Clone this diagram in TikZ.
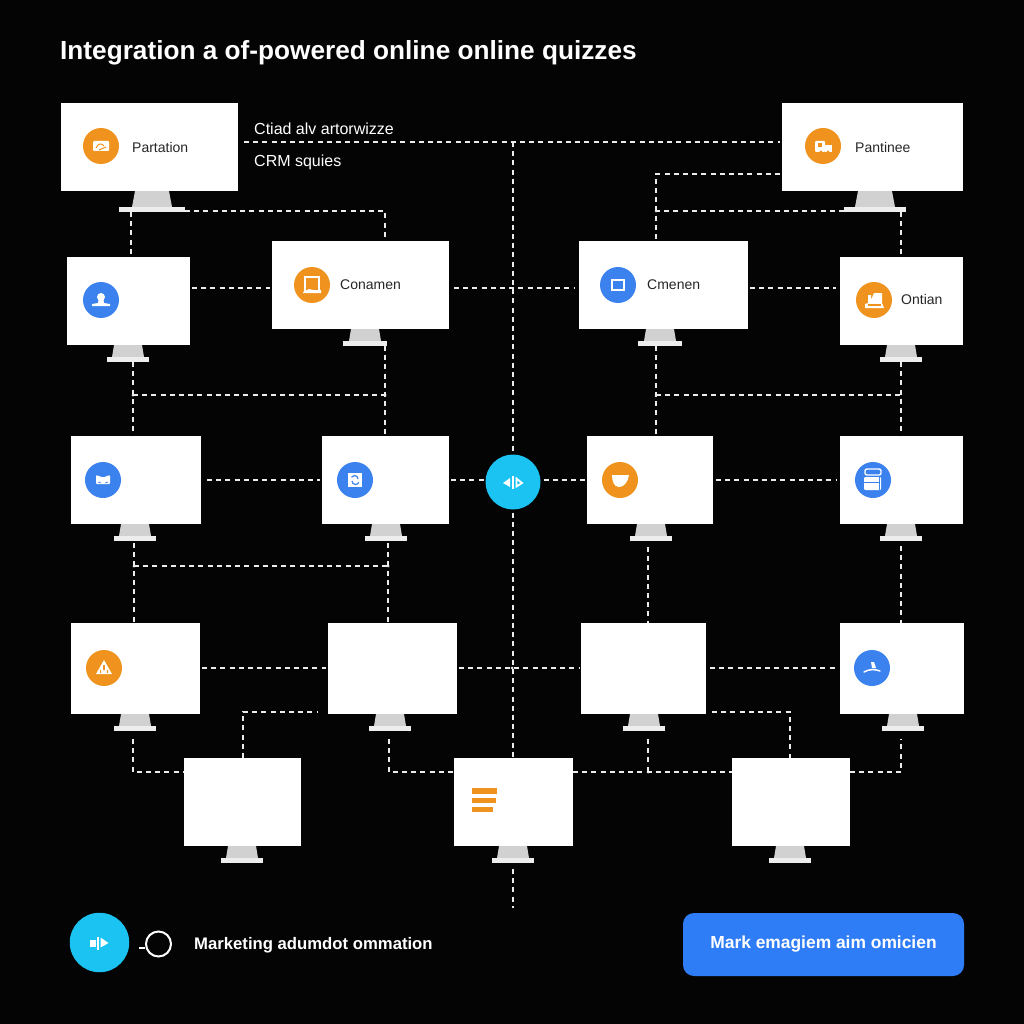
\documentclass[tikz,border=0pt]{standalone}
\usepackage{fontspec}
\setmainfont{Liberation Sans}
\definecolor{bg}{HTML}{040404}
\definecolor{org}{HTML}{F0931E}
\definecolor{blu}{HTML}{3B82EE}
\definecolor{cyn}{HTML}{1AC3F2}
\definecolor{btn}{HTML}{2F7DF6}
\definecolor{lnk}{HTML}{ECECEC}
\tikzset{
  screen/.style={fill=white,inner sep=0pt,outer sep=0pt},
  basebar/.style={fill=black!7,inner sep=0pt,outer sep=0pt},
  icoorg/.style={circle,fill=org,inner sep=0pt,outer sep=0pt,minimum size=36pt},
  icoblu/.style={circle,fill=blu,inner sep=0pt,outer sep=0pt,minimum size=36pt},
  hubc/.style={circle,fill=cyn,inner sep=0pt,outer sep=0pt},
  link/.style={draw=lnk,line width=1.1pt,dash pattern=on 5pt off 4.2pt},
  lab/.style={anchor=west,inner sep=0pt,text=black!85,font=\fontsize{14}{16}\selectfont},
  wlab/.style={anchor=west,inner sep=0pt,text=white,font=\fontsize{16}{18}\selectfont},
  glyph/.style={fill=white,draw=none}
}
% name, x1, y1, x2, y2, stand centre, base half width
\newcommand{\monitor}[7]{%
  \pgfmathsetmacro{\mw}{#4-#2}\pgfmathsetmacro{\mh}{#5-#3}%
  \pgfmathsetmacro{\mx}{(#2+#4)/2}\pgfmathsetmacro{\my}{(#3+#5)/2}%
  \pgfmathsetmacro{\nk}{#7>30?16:12}%
  \pgfmathsetmacro{\nt}{#7>30?17:14}%
  \pgfmathsetmacro{\nb}{#7>30?20:16}%
  \fill[black!18] (#6-\nt,#5) -- (#6+\nt,#5) -- (#6+\nb,#5+\nk) -- (#6-\nb,#5+\nk) -- cycle;
  \node[basebar,minimum width=2*#7 pt,minimum height=5pt] (#1base) at (#6,#5+\nk+2.5) {};
  \node[screen,minimum width=\mw pt,minimum height=\mh pt] (#1) at (\mx,\my) {};
}
\begin{document}
\begin{tikzpicture}[x=1pt,y=-1pt]
\useasboundingbox (0,0) rectangle (1024,1024);
\fill[bg] (0,0) rectangle (1024,1024);

\node[anchor=west,inner sep=0pt,text=white,font=\bfseries\fontsize{26.2}{30}\selectfont] (title) at (60,53) {Integration a of-powered online online quizzes};

% monitors
\monitor{A}{61}{103}{238}{191}{152}{33}
\monitor{B}{782}{103}{963}{191}{875}{31}
\monitor{C}{67}{257}{190}{345}{128}{21}
\monitor{D}{272}{241}{449}{329}{365}{22}
\monitor{E}{579}{241}{748}{329}{660}{22}
\monitor{F}{840}{257}{963}{345}{901}{21}
\monitor{G}{71}{436}{201}{524}{135}{21}
\monitor{H}{322}{436}{449}{524}{386}{21}
\monitor{I}{587}{436}{713}{524}{651}{21}
\monitor{J}{840}{436}{963}{524}{901}{21}
\monitor{K}{71}{623}{200}{714}{135}{21}
\monitor{L}{328}{623}{457}{714}{390}{21}
\monitor{M}{581}{623}{706}{714}{644}{21}
\monitor{N}{840}{623}{964}{714}{903}{21}
\monitor{O}{184}{758}{301}{846}{242}{21}
\monitor{P}{454}{758}{573}{846}{513}{21}
\monitor{Q}{732}{758}{850}{846}{790}{21}

\node[hubc,minimum size=55pt] (hub) at (513,482) {};

% connectors
\draw[link,shorten <=6pt,shorten >=2pt] (A.east |- 0,142) -- (B.west |- 0,142);
\draw[link] (hub.north |- 0,142) -- (hub.north);
\draw[link,shorten <=3pt] (hub.south) -- (hub.south |- P.north);
\draw[link,shorten <=6pt] (Pbase.south) -- (Pbase.south |- 0,908);

\draw[link] (Abase.east |- 0,211) -- (385,211) -- (385,0 |- D.north);
\draw[link] (131,0 |- Abase.south) -- (131,0 |- C.north);
\draw[link,shorten <=2pt] (B.west |- 0,174) -- (656,174) -- (656,0 |- E.north);
\draw[link] (Bbase.west |- 0,211) -- (656,211);
\draw[link] (901,0 |- Bbase.south) -- (901,0 |- F.north);

\draw[link,shorten <=2pt,shorten >=2pt] (C.east |- 0,288) -- (D.west |- 0,288);
\draw[link,shorten <=5pt,shorten >=5pt] (D.east |- 0,288) -- (E.west |- 0,288);
\draw[link,shorten <=2pt,shorten >=4pt] (E.east |- 0,288) -- (F.west |- 0,288);

\draw[link] (133,0 |- Cbase.south) -- (133,0 |- G.north);
\draw[link] (385,0 |- Dbase.south) -- (385,0 |- H.north);
\draw[link] (133,395) -- (385,395);
\draw[link] (656,0 |- Ebase.south) -- (656,0 |- I.north);
\draw[link] (901,0 |- Fbase.south) -- (901,0 |- J.north);
\draw[link] (656,395) -- (901,395);

\draw[link,shorten <=6pt,shorten >=2pt] (G.east |- 0,480) -- (H.west |- 0,480);
\draw[link,shorten <=2pt,shorten >=2pt] (H.east |- 0,480) -- (hub.west |- 0,480);
\draw[link,shorten <=3pt,shorten >=2pt] (hub.east |- 0,480) -- (I.west |- 0,480);
\draw[link,shorten <=3pt,shorten >=3pt] (I.east |- 0,480) -- (J.west |- 0,480);

\draw[link,shorten <=2pt] (134,0 |- Gbase.south) -- (134,0 |- K.north);
\draw[link,shorten <=2pt] (388,0 |- Hbase.south) -- (388,0 |- L.north);
\draw[link] (134,566) -- (388,566);
\draw[link,shorten <=6pt] (648,0 |- Ibase.south) -- (648,0 |- M.north);
\draw[link,shorten <=5pt] (901,0 |- Jbase.south) -- (901,0 |- N.north);

\draw[link,shorten <=2pt,shorten >=2pt] (K.east |- 0,668) -- (L.west |- 0,668);
\draw[link,shorten <=2pt,shorten >=1pt] (L.east |- 0,668) -- (M.west |- 0,668);
\draw[link,shorten <=4pt,shorten >=5pt] (M.east |- 0,668) -- (N.west |- 0,668);

\draw[link,shorten >=10pt] (243,0 |- O.north) -- (243,712) -- (L.west |- 0,712);
\draw[link,shorten <=6pt] (M.east |- 0,712) -- (790,712) -- (790,0 |- Q.north);
\draw[link,shorten <=8pt] (133,0 |- Kbase.south) -- (133,772) -- (O.west |- 0,772);
\draw[link,shorten <=8pt] (389,0 |- Lbase.south) -- (389,772) -- (P.west |- 0,772);
\draw[link] (P.east |- 0,772) -- (Q.west |- 0,772);
\draw[link,shorten <=8pt] (648,0 |- Mbase.south) -- (648,772);
\draw[link,shorten >=8pt] (Q.east |- 0,772) -- (901,772) -- (901,0 |- Nbase.south);

\foreach \jx/\jy in {133/395,385/395,656/395,134/566,388/566,512/668,648/772,656/211}
  \fill[lnk] (\jx,\jy) circle (1.5pt);

% text
\node[wlab] (t1) at (254,129) {Ctiad alv artorwizze};
\node[wlab] (t2) at (254,162) {CRM squies};

% icon discs
\node[icoorg] (iA) at (101,146) {};
\node[lab] (lA) at (132,147) {Partation};
\node[icoorg] (iB) at (823,146) {};
\node[lab] (lB) at (855,147) {Pantinee};
\node[icoblu] (iC) at (101,300) {};
\node[icoorg] (iD) at (312,285) {};
\node[lab] (lD) at (340,285) {Conamen};
\node[icoblu] (iE) at (618,285) {};
\node[lab] (lE) at (647,285) {Cmenen};
\node[icoorg] (iF) at (874,300) {};
\node[lab] (lF) at (901,299) {Ontian};
\node[icoblu] (iG) at (103,480) {};
\node[icoblu] (iH) at (355,480) {};
\node[icoorg] (iI) at (620,480) {};
\node[icoblu] (iJ) at (873,480) {};
\node[icoorg] (iK) at (104,668) {};
\node[icoblu] (iN) at (872,668) {};

% glyphs
\begin{scope}[shift={(iA)}]
  \fill[glyph,rounded corners=1pt] (-8,-5) rectangle (8,5);
  \draw[org,line width=1pt] (-5,2) .. controls (-3,-3) and (1,-3) .. (3,0) (-2,4) -- (5,1);
\end{scope}
\begin{scope}[shift={(iB)}]
  \fill[glyph,rounded corners=1pt] (-8,-5) rectangle (2,6);
  \fill[glyph] (2,-1) rectangle (9,6);
  \fill[org] (-5,-3) rectangle (-1,1);
  \fill[org] (-2,6) circle (1.6pt) (5,6) circle (1.6pt);
\end{scope}
\begin{scope}[shift={(iC)}]
  \fill[glyph] (0,-3) circle (4pt);
  \fill[glyph] (-2.5,0) -- (2.5,0) -- (3,3) -- (9,4) -- (9,6) -- (-9,6) -- (-9,4) -- (-3,3) -- cycle;
\end{scope}
\begin{scope}[shift={(iD)}]
  \draw[white,line width=1.6pt] (-7,7) -- (-7,-8) -- (7,-8) -- (7,7);
  \fill[glyph] (-9,7) -- (-3,4) -- (1,5) -- (9,5) -- (9,8) -- (-9,8) -- cycle;
\end{scope}
\begin{scope}[shift={(iE)}]
  \draw[white,line width=2pt] (-6,-5) rectangle (6,5);
\end{scope}
\begin{scope}[shift={(iF)}]
  \fill[glyph] (-9,8) -- (-9,4) -- (-6,3) -- (-6,-5) -- (-3,-5) -- (-3,0) -- (0,-7) -- (8,-7) -- (8,3) -- (10,8) -- cycle;
  \fill[org] (-6,4) rectangle (7,5.5);
\end{scope}
\begin{scope}[shift={(iG)}]
  \fill[glyph,rounded corners=1pt] (-7,-5) -- (0,-2.5) -- (7,-5) -- (7,4) -- (-7,4) -- cycle;
  \draw[blu,line width=.7pt] (-5,2) -- (-2,3) (5,2) -- (2,3);
\end{scope}
\begin{scope}[shift={(iH)}]
  \fill[glyph] (-7,-7) rectangle (7,7);
  \draw[blu,line width=1.2pt] (-3,1) arc (180:20:3.5) (3,-1) arc (0:-150:3.5);
\end{scope}
\begin{scope}[shift={(iI)}]
  \fill[glyph] (-8,-5) -- (9,-5) .. controls (8,2) and (4,7) .. (-1,7) .. controls (-6,7) and (-8,1) .. (-8,-5) -- cycle;
\end{scope}
\begin{scope}[shift={(iJ)}]
  \draw[white,line width=1.4pt,rounded corners=2pt] (-8,-11) rectangle (8,-5);
  \fill[glyph,rounded corners=1pt] (-9,-3) rectangle (8,10);
  \draw[blu,line width=1pt] (-5,-8) -- (5,-8) (-9,2) -- (7,2) (6,-3) -- (6,10);
\end{scope}
\begin{scope}[shift={(iK)}]
  \fill[glyph] (0,-8) -- (8,6) -- (-8,6) -- cycle;
  \fill[org] (-.8,-3) rectangle (.8,2) (-4,2) rectangle (-2.8,5) (2.8,2) rectangle (4,5);
\end{scope}
\begin{scope}[shift={(iN)}]
  \draw[white,line width=1.5pt,line cap=round] (-8,4) .. controls (-3,1) and (3,1) .. (8,3);
  \fill[glyph] (-1,-6) -- (2,-6) -- (4,0) -- (0,0) -- cycle;
\end{scope}
\begin{scope}[shift={(hub)}]
  \fill[glyph] (-10,1) -- (-3,-4) -- (-3,5) -- cycle;
  \fill[glyph] (-1,-6) rectangle (1,7);
  \draw[white,line width=1.8pt] (3.5,-3.5) -- (9,1) -- (3.5,4.5) -- cycle;
\end{scope}

% bars in P
\fill[org] (472,788) rectangle (497,794);
\fill[org] (472,798) rectangle (495.5,802.5);
\fill[org] (472,807) rectangle (493,811.5);

% footer
\node[hubc,minimum size=59.5pt] (fhub) at (99.5,942.5) {};
\begin{scope}[shift={(fhub)}]
  \fill[glyph] (-10,-3) -- (-4,-3) -- (-4,4) -- (-10,4) -- cycle;
  \fill[glyph] (-2.2,-6) rectangle (-.5,7);
  \fill[glyph] (1,-5) -- (9,0.5) -- (1,5) -- cycle;
\end{scope}
\node[circle,draw=white,line width=2pt,minimum size=25pt,inner sep=0pt] (ring) at (158.5,944) {};
\draw[white,line width=2pt] (ring.195) -- ++(-6,0);
\node[anchor=west,inner sep=0pt,text=white,font=\bfseries\fontsize{16.7}{19}\selectfont] (ftext) at (194,945) {Marketing adumdot ommation};
\node[fill=btn,rounded corners=11pt,minimum width=281pt,minimum height=63pt,inner sep=0pt,text=white,font=\bfseries\fontsize{17.4}{20}\selectfont] (cta) at (823.5,944.5) {Mark emagiem aim omicien};
\end{tikzpicture}
\end{document}
